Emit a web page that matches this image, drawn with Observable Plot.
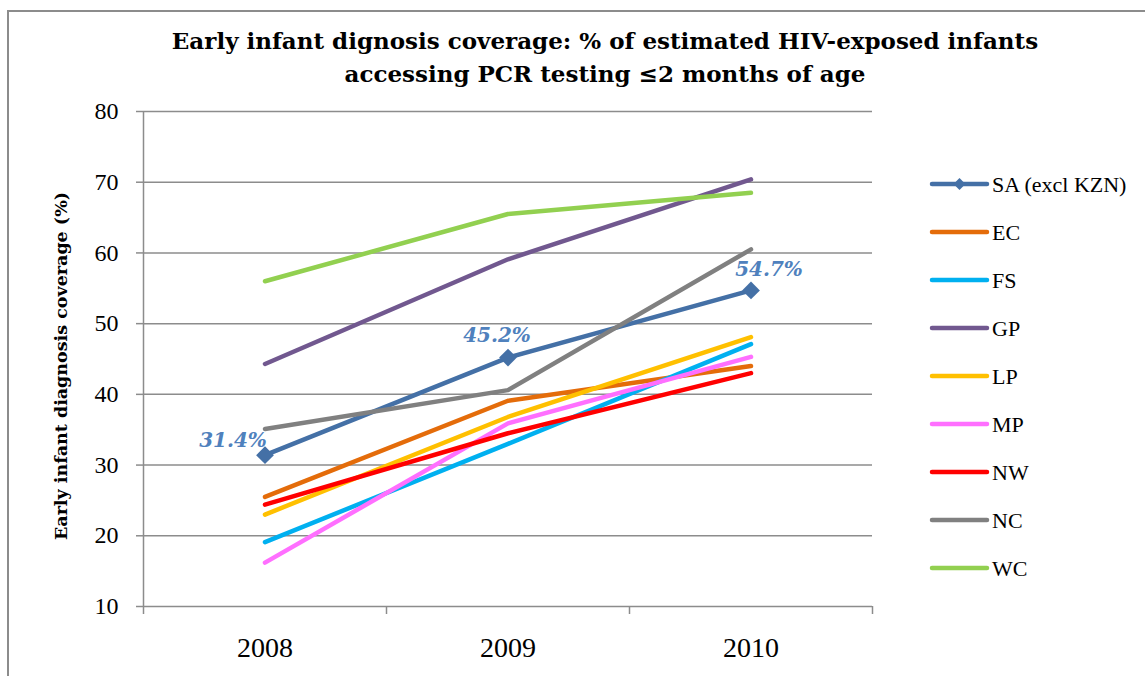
<!DOCTYPE html>
<html>
<head>
<meta charset="utf-8">
<script src="https://cdn.jsdelivr.net/npm/d3@7"></script>
<script src="https://cdn.jsdelivr.net/npm/@observablehq/plot@0.6"></script>
<style>
  html, body { margin: 0; padding: 0; background: #fff; overflow: hidden; }
  #chart { position: relative; width: 1145px; height: 676px; overflow: hidden; background: #fff; }
  #frame { position: absolute; left: 7px; top: 10px; width: 1160px; height: 700px;
           border: 2px solid #8c8c8c; box-sizing: border-box; }
  .title { position: absolute; left: 0; width: 1210px; text-align: center;
           font-family: "DejaVu Serif", serif; font-weight: bold; font-size: 23px; color: #000;
           white-space: nowrap; }
  #ylabel { position: absolute; left: 61px; top: 366px; transform: translate(-50%, -50%) rotate(-90deg);
            font-family: "DejaVu Serif", serif; font-weight: bold; font-size: 17.5px; white-space: nowrap; color: #000; }
  #plot, #legend { position: absolute; left: 0; top: 0; }
</style>
</head>
<body>
<div id="chart">
  <div id="frame"></div>
  <div class="title" style="top:27px">Early infant dignosis coverage: % of estimated HIV-exposed infants</div>
  <div class="title" style="top:60px">accessing PCR testing ≤2 months of age</div>
  <div id="ylabel">Early infant diagnosis coverage (%)</div>
  <div id="plot"></div>
  <svg id="legend" width="1145" height="676"></svg>
</div>
<script>
// Years on the x axis
const years = [2008, 2009, 2010];

// Provinces / series, in legend order
const regions = ["SA (excl KZN)", "EC", "FS", "GP", "LP", "MP", "NW", "NC", "WC"];

// Coverage (%) per series, one value per year
const saExclKzn = [31.4, 45.2, 54.7];
const ec = [25.5, 39.1, 44.0];
const fs = [19.1, 33.0, 47.1];
const gp = [44.3, 59.1, 70.4];
const lp = [23.0, 36.8, 48.1];
const mp = [16.2, 35.9, 45.3];
const nw = [24.4, 34.5, 43.0];
const nc = [35.1, 40.6, 60.5];
const wc = [56.0, 65.5, 68.5];

// y-axis ticks
const yTicks = [10, 20, 30, 40, 50, 60, 70, 80];

const seriesValues = [saExclKzn, ec, fs, gp, lp, mp, nw, nc, wc];
const palette = ["#4470a6", "#e46c0a", "#00b0f0", "#71588f", "#ffc000", "#ff6fff", "#ff0000", "#808080", "#92d050"];

// Long-format table for Plot
const rows = regions.flatMap((region, i) =>
  years.map((year, j) => ({region, year, value: seriesValues[i][j]}))
);
const saRows = rows.filter(d => d.region === regions[0]);
const labelFor = year => saRows.filter(d => d.year === year);
const pct = d => d.value.toFixed(1) + "%";

const gridColor = "#8c8c8c";
const labelStyle = {fill: "#4f81bd", fontSize: 20, fontWeight: "bold", fontStyle: "italic", fontFamily: "'DejaVu Serif', serif"};

const chart = Plot.plot({
  width: 1145,
  height: 676,
  marginLeft: 143,
  marginRight: 273,
  marginTop: 111,
  marginBottom: 70,
  style: {fontFamily: "'Liberation Serif', serif", background: "transparent", color: "#000", overflow: "visible"},
  x: {type: "linear", domain: [years[0] - 0.5, years[years.length - 1] + 0.5], axis: null},
  y: {domain: [10, 80], axis: null},
  color: {domain: regions, range: palette},
  marks: [
    Plot.gridY(yTicks, {stroke: gridColor, strokeOpacity: 1, strokeWidth: 1.5}),
    Plot.ruleX([years[0] - 0.5], {y1: 10, y2: 80, stroke: gridColor, strokeWidth: 1.5}),
    Plot.axisY(yTicks, {label: null, tickSize: 7, tickPadding: 18, stroke: gridColor, strokeWidth: 1.5, fontSize: 24, tickFormat: d => String(d)}),
    // category boundary ticks
    Plot.axisX([2007.5, 2008.5, 2009.5, 2010.5], {label: null, tickSize: 8, stroke: gridColor, strokeWidth: 1.5, tickFormat: () => ""}),
    // year labels centred in each category
    Plot.axisX(years, {label: null, tickSize: 0, tickPadding: 31, fontSize: 28, tickFormat: d => String(d)}),
    Plot.line(rows, {x: "year", y: "value", z: "region", stroke: "region", strokeWidth: 4.5,
                     strokeLinecap: "round", strokeLinejoin: "round"}),
    Plot.dot(saRows, {x: "year", y: "value", symbol: "diamond2", r: 8, fill: palette[0], stroke: "none"}),
    Plot.text(labelFor(2008), {x: "year", y: "value", text: pct, dx: -32, dy: -15, ...labelStyle}),
    Plot.text(labelFor(2009), {x: "year", y: "value", text: pct, dx: -11, dy: -22, ...labelStyle}),
    Plot.text(labelFor(2010), {x: "year", y: "value", text: pct, dx: 18, dy: -21, ...labelStyle})
  ]
});
document.getElementById("plot").appendChild(chart);

// Legend: line swatch + label per series
const legend = d3.select("#legend");
const items = legend.selectAll("g.item").data(regions).join("g")
  .attr("class", "item")
  .attr("transform", (d, i) => `translate(932,${184 + i * 48})`);
items.append("line")
  .attr("x1", 0).attr("x2", 55).attr("y1", 0).attr("y2", 0)
  .attr("stroke", (d, i) => palette[i]).attr("stroke-width", 4.5).attr("stroke-linecap", "round");
items.filter((d, i) => i === 0).append("path")
  .attr("d", d3.symbol(d3.symbolDiamond2, 90)())
  .attr("transform", "translate(27.5,0)")
  .attr("fill", palette[0]);
items.append("text")
  .attr("x", 60).attr("dy", "0.35em")
  .attr("font-family", "'Liberation Serif', serif").attr("font-size", 22)
  .attr("fill", "#000")
  .text(d => d);
</script>
</body>
</html>
